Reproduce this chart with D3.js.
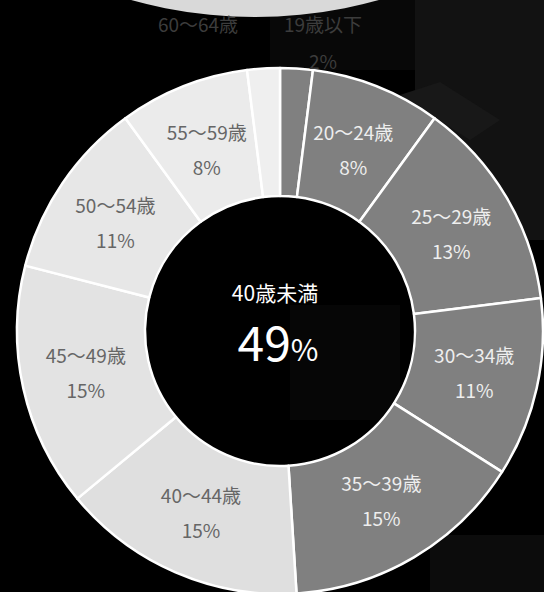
<!DOCTYPE html>
<html>
<head>
<meta charset="utf-8">
<script src="https://cdn.jsdelivr.net/npm/d3@7"></script>
<style>
  html, body { margin: 0; padding: 0; background: #000; }
  svg { display: block; }
  text { font-family: "Noto Sans CJK JP", "Noto Sans", sans-serif; }
</style>
</head>
<body>
<svg width="544" height="592"></svg>
<script>
// age groups and their share (%)
const ageLabels = ['19歳以下', '20〜24歳', '25〜29歳', '30〜34歳', '35〜39歳',
                   '40〜44歳', '45〜49歳', '50〜54歳', '55〜59歳', '60〜64歳'];
const shares = [2, 8, 13, 11, 15, 15, 15, 11, 8, 2];
const under40Count = 5;           // first five groups are under 40
const centerLabel = '40歳未満';

const width = 544, height = 592;
const cx = 280, cy = 331;
const outerR = 263, innerR = 135;

const svg = d3.select('svg');

// background scenery (dark building shapes)
const bg = svg.append('g');
bg.append('rect').attr('x', 0).attr('y', 0).attr('width', width).attr('height', height).attr('fill', '#000');
bg.append('rect').attr('x', 270).attr('y', 0).attr('width', 150).attr('height', 70).attr('fill', '#080808');
bg.append('rect').attr('x', 415).attr('y', 0).attr('width', 129).attr('height', 240).attr('fill', '#121212');
bg.append('path').attr('d', 'M400,95 L440,82 L500,120 L470,140 Z').attr('fill', '#181818');
bg.append('rect').attr('x', 290).attr('y', 305).attr('width', 110).attr('height', 115).attr('fill', '#060606');
bg.append('rect').attr('x', 430).attr('y', 535).attr('width', 114).attr('height', 57).attr('fill', '#0c0c0c');
// light disc cut off at the top
bg.append('circle').attr('cx', 255).attr('cy', -443).attr('r', 460).attr('fill', '#d9d9d9');

const color = d3.scaleOrdinal()
  .domain(ageLabels)
  .range(['#808080', '#808080', '#808080', '#808080', '#808080',
          '#dfdfdf', '#e3e3e3', '#e7e7e7', '#ebebeb', '#efefef']);

const data = ageLabels.map((name, i) => ({ name, value: shares[i], idx: i }));

const pie = d3.pie().sort(null).value(d => d.value);
const arcs = pie(data);

const arc = d3.arc().innerRadius(innerR).outerRadius(outerR);

const g = svg.append('g').attr('transform', `translate(${cx},${cy})`);

g.selectAll('path.slice')
  .data(arcs)
  .enter().append('path')
  .attr('class', 'slice')
  .attr('d', arc)
  .attr('fill', d => color(d.data.name))
  .attr('stroke', '#fff')
  .attr('stroke-width', 2.5)
  .attr('stroke-linejoin', 'round');

// inner labels for big slices
const inside = arcs.filter(d => d.data.value >= 5);
const lab = g.selectAll('g.lab')
  .data(inside)
  .enter().append('g')
  .attr('class', 'lab')
  .attr('transform', d => {
    const [x, y] = arc.centroid(d);
    return `translate(${x},${y + (y < 0 ? 5 : 0)})`;
  });

lab.append('text')
  .attr('text-anchor', 'middle')
  .attr('y', -11)
  .attr('font-size', 19)
  .attr('fill', d => d.data.idx < under40Count ? '#eeeeee' : '#666')
  .text(d => d.data.name);

lab.append('text')
  .attr('text-anchor', 'middle')
  .attr('y', 24)
  .attr('font-size', 19)
  .attr('fill', d => d.data.idx < under40Count ? '#eeeeee' : '#666')
  .text(d => d.data.value + '%');

// outside labels for tiny slices (dim)
const outside = arcs.filter(d => d.data.value < 5);
outside.forEach(d => {
  const mid = (d.startAngle + d.endAngle) / 2;
  const side = Math.sin(mid) >= 0 ? 1 : -1;
  const x = side * 43 - (side < 0 ? 39 : 0);
  g.append('text')
    .attr('x', x).attr('y', 25 - cy + 7)
    .attr('text-anchor', 'middle')
    .attr('font-size', 19)
    .attr('fill', '#3c3c3c')
    .text(d.data.name);
  if (side > 0) {
    g.append('text')
      .attr('x', x).attr('y', 62 - cy + 7)
      .attr('text-anchor', 'middle')
      .attr('font-size', 19)
      .attr('fill', '#3c3c3c')
      .text(d.data.value + '%');
  }
});

// center summary
const under40 = d3.sum(shares.slice(0, under40Count));
g.append('text')
  .attr('text-anchor', 'middle')
  .attr('x', -5).attr('y', -30)
  .attr('font-size', 21)
  .attr('fill', '#fff')
  .text(centerLabel);

const big = g.append('text')
  .attr('text-anchor', 'middle')
  .attr('x', -2).attr('y', 30)
  .attr('fill', '#fff');
big.append('tspan').attr('font-size', 48).text(under40);
big.append('tspan').attr('font-size', 30).text('%');
</script>
</body>
</html>
